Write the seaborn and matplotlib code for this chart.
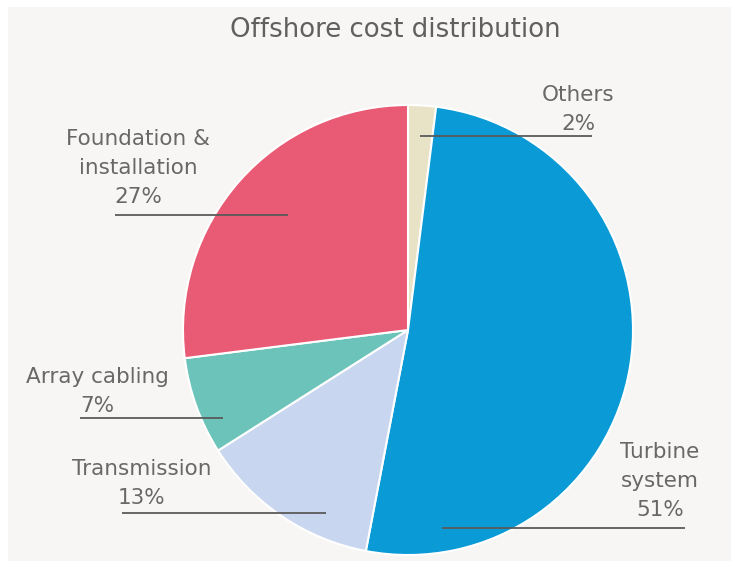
import matplotlib
matplotlib.use("Agg")
import matplotlib.pyplot as plt
from matplotlib.patches import Rectangle
import seaborn as sns

# Cost shares, listed clockwise from 12 o'clock
categories = ["Others", "Turbine\nsystem", "Transmission", "Array cabling", "Foundation &\ninstallation"]
shares = [2, 51, 13, 7, 27]
colors = ["#e8e2c6", "#0a9ad6", "#c9d6ef", "#6cc3b9", "#e95a74"]
title = "Offshore cost distribution"

sns.set_theme(style="white")
plt.rcParams["font.family"] = ["DejaVu Sans"]

W, H = 731, 561
fig = plt.figure(figsize=(W / 100, H / 100), dpi=100, facecolor="white")
fig.patches.append(Rectangle((8 / W, 0), 1, (H - 7) / H, transform=fig.transFigure,
                             facecolor="#f7f6f4", edgecolor="none", zorder=-5))

# pie centre and radius in pixels
cx, cy, r = 408, 330, 225
ax = fig.add_axes([(cx - r) / W, (H - cy - r) / H, 2 * r / W, 2 * r / H])
ax.set_zorder(2)
ax.set_facecolor("none")
ax.pie(shares, colors=colors, startangle=90, counterclock=False, radius=1,
       wedgeprops=dict(edgecolor="white", linewidth=1.5))
ax.set_xlim(-1, 1)
ax.set_ylim(-1, 1)
ax.set_aspect("equal")
ax.axis("off")


def px(x, y):
    return (x - cx) / r, (cy - y) / r


# label layout (pixels): text centre x, text bottom y, leader y, leader x-span
layout = [
    (578, 134, 136, 420, 592),
    (660, 520, 528, 442, 685),
    (142, 508, 513, 122, 326),
    (97, 416, 418, 80, 223),
    (138, 207, 215, 115, 288),
]
txt_col = "#686868"
for name, val, (tx, ty, ly, x0, x1) in zip(categories, shares, layout):
    a = px(x0, ly)
    b = px(x1, ly)
    ax.plot([a[0], b[0]], [a[1], b[1]], color="#5a5a5a", lw=1.3, clip_on=False,
            solid_capstyle="butt", zorder=5)
    t = px(tx, ty)
    ax.text(t[0], t[1], f"{name}\n{val}%",
            ha="center", va="bottom", fontsize=15.5, color=txt_col, linespacing=1.55,
            clip_on=False)

fig.text(395 / W, 1 - 30 / H, title, ha="center", va="center", fontsize=18.7, color="#606060")

fig.savefig("out.png", dpi=100, facecolor=fig.get_facecolor())
